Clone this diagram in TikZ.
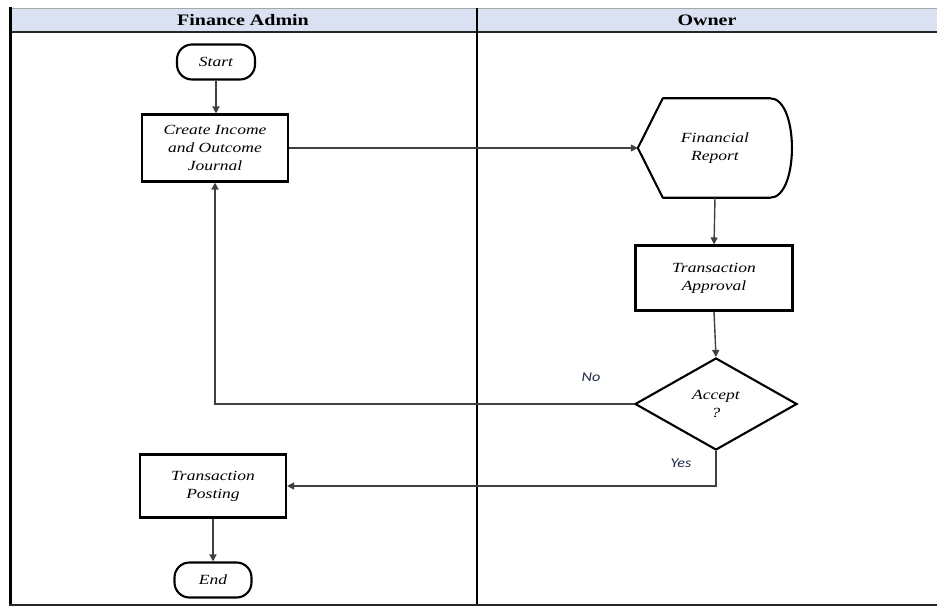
\documentclass[tikz,border=0pt]{standalone}
\usepackage{fontspec}
\setmainfont[FakeStretch=1.25]{Liberation Serif}
\newfontfamily\lblfont[FakeStretch=1.2]{Carlito}
\usetikzlibrary{shapes.geometric,arrows.meta}
\definecolor{hdrfill}{HTML}{D9E1F2}
\definecolor{lnk}{HTML}{404040}
\definecolor{lbl}{HTML}{1F2A4A}
\tikzset{
  proc/.style={draw=black, line width=2.1pt, fill=white, align=center, inner sep=2pt,
    font=\itshape\fontsize{14}{18}\selectfont},
  term/.style={proc, rounded corners=15pt},
  dec/.style={proc, diamond, inner sep=0pt},
  plain/.style={align=center, inner sep=0pt, font=\itshape\fontsize{14}{18}\selectfont},
  link/.style={draw=lnk, line width=1.4pt, -{Triangle[length=7pt,width=7pt]}},
  yn/.style={text=lbl, font=\lblfont\itshape\fontsize{13.5}{15}\selectfont, inner sep=0pt},
  hdr/.style={font=\bfseries\fontsize{16}{18}\selectfont, inner sep=0pt}
}
\begin{document}
\begin{tikzpicture}[x=1pt,y=-1pt]
\useasboundingbox (0,0) rectangle (937,607);
% header band
\fill[hdrfill] (10,8) rectangle (937,32);
\draw[gray!70, line width=0.8pt] (10,8) -- (937,8);
\draw[black!85, line width=2pt] (10,32) -- (937,32);
% lane borders
\draw[black, line width=3pt] (10,7) -- (10,606);
\draw[black, line width=2.4pt] (477,8) -- (477,606);
\draw[black!85, line width=2pt] (9,605) -- (937,605);
% header titles
\node[hdr] (h1) at (243,20) {Finance Admin};
\node[hdr] (h2) at (707,20) {Owner};
% nodes
\node[term, minimum width=78pt, minimum height=35pt] (start) at (216,62) {Start};
\node[proc, minimum width=146pt, minimum height=67pt] (create) at (215,148) {Create Income\\and Outcome\\Journal};
\node[plain, minimum width=154pt, minimum height=99pt] (fr) at (715,148) {Financial\\Report};
\draw[black, line width=2.1pt, line join=round] (fr.west) -- ([xshift=25pt]fr.north west) -- ([xshift=-22pt]fr.north east)
  .. controls ([xshift=7pt]fr.north east) and ([xshift=7pt]fr.south east) .. ([xshift=-22pt]fr.south east)
  -- ([xshift=25pt]fr.south west) -- cycle;
\node[proc, minimum width=157pt, minimum height=65pt] (appr) at (714,278) {Transaction\\Approval};
\node[dec, minimum width=162pt, minimum height=92pt] (acc) at (716,404) {Accept\\?};
\node[proc, minimum width=146pt, minimum height=63pt] (post) at (213,486) {Transaction\\Posting};
\node[term, minimum width=77pt, minimum height=35pt] (endn) at (213,580) {End};
% connectors
\draw[link] (start.south) -- (start.south |- create.north);
\draw[link] (create.east) -- (fr.west);
\draw[link] (fr.south) -- (appr.north);
\draw[link] (appr.south) -- (acc.north);
\draw[link] (acc.west) -| (create.south);
\draw[link] (acc.south) |- (post.east);
\draw[link] (post.south) -- (endn.north);
% labels
\node[yn] (no) at (591,377) {No};
\node[yn] (yes) at (681,463) {Yes};
\end{tikzpicture}
\end{document}
